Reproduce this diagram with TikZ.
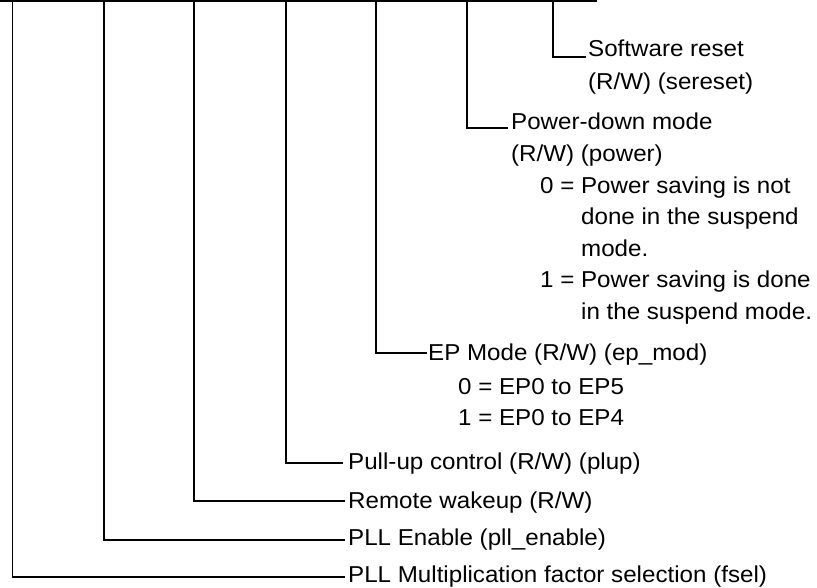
\documentclass[tikz,border=0pt]{standalone}
\usepackage{fontspec}
\setmainfont{Liberation Sans}[FakeStretch=1.05]
\begin{document}
\begin{tikzpicture}[x=1pt,y=-1pt,
  lbl/.style={anchor=base west, inner sep=0pt, font=\fontsize{23}{27}\selectfont},
  wire/.style={line width=1.1pt},
  bus/.style={line width=2.4pt}]
\useasboundingbox (0,0) rectangle (817,587);
% register bar
\coordinate (tl) at (0,1.2);
\coordinate (tr) at (597,1.2);
\draw[bus] (tl) -- (tr);
% bit tap points
\coordinate (b0) at (12.5,2.4);
\coordinate (b1) at (104,2.4);
\coordinate (b2) at (194,2.4);
\coordinate (b3) at (286,2.4);
\coordinate (b4) at (376,2.4);
\coordinate (b5) at (467,2.4);
\coordinate (b6) at (553,2.4);
% label line ends
\coordinate (e6) at (586,57);
\coordinate (e5) at (508,128);
\coordinate (e4) at (427,353);
\coordinate (e3) at (343,463);
\coordinate (e2) at (345,501);
\coordinate (e1) at (345,540);
\coordinate (e0) at (345,577);
% labels
\node[lbl] (sr1) at (588,56) {Software reset};
\node[lbl] (sr2) at (588,89) {(R/W) (sereset)};
\node[lbl] (pd1) at (511,129) {Power-down mode};
\node[lbl] (pd2) at (511,161) {(R/W) (power)};
\node[lbl] (pd3) at (540,193) {0 = Power saving is not};
\node[lbl] (pd4) at (540,224.5) {\phantom{0 = }done in the suspend};
\node[lbl] (pd5) at (540,256) {\phantom{0 = }mode.};
\node[lbl] (pd6) at (540,287.5) {1 = Power saving is done};
\node[lbl] (pd7) at (540,319) {\phantom{1 = }in the suspend mode.};
\node[lbl] (ep1) at (428,360) {EP Mode (R/W) (ep\_mod)};
\node[lbl] (ep2) at (458,394) {0 = EP0 to EP5};
\node[lbl] (ep3) at (458,425.5) {1 = EP0 to EP4};
\node[lbl] (pu) at (348,469) {Pull-up control (R/W) (plup)};
\node[lbl] (rw) at (348,508) {Remote wakeup (R/W)};
\node[lbl] (pe) at (348,545) {PLL Enable (pll\_enable)};
\node[lbl] (fs) at (348,582.5) {PLL Multiplication factor selection (fsel)};
% connectors
\draw[wire] (b6) |- (e6);
\draw[wire] (b5) |- (e5);
\draw[wire] (b4) |- (e4);
\draw[wire] (b3) |- (e3);
\draw[wire] (b2) |- (e2);
\draw[wire] (b1) |- (e1);
\draw[wire] (b0) |- (e0);
\end{tikzpicture}
\end{document}
